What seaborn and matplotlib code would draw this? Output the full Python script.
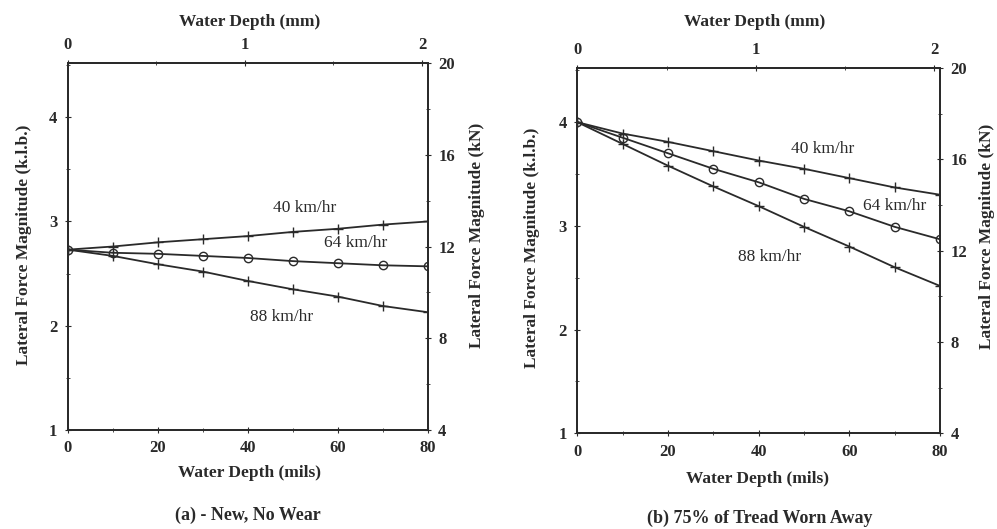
import pandas as pd
import matplotlib.pyplot as plt
import matplotlib.ticker as mticker
import seaborn as sns

# Water depth (mils) at each measured point
depth_mils = [0, 10, 20, 30, 40, 50, 60, 70, 80]
speeds = ['40 km/hr', '64 km/hr', '88 km/hr']

# (a) New tyre, no wear - lateral force (kip)
new_40 = [2.73, 2.76, 2.80, 2.83, 2.86, 2.90, 2.93, 2.97, 3.00]
new_64 = [2.73, 2.70, 2.69, 2.67, 2.65, 2.62, 2.60, 2.58, 2.57]
new_88 = [2.73, 2.67, 2.59, 2.52, 2.43, 2.35, 2.28, 2.19, 2.13]

# (b) 75% of tread worn away - lateral force (kip)
worn_40 = [4.00, 3.89, 3.81, 3.72, 3.63, 3.55, 3.46, 3.37, 3.30]
worn_64 = [4.00, 3.85, 3.70, 3.55, 3.42, 3.26, 3.14, 2.99, 2.87]
worn_88 = [4.00, 3.79, 3.58, 3.38, 3.19, 2.99, 2.80, 2.60, 2.42]

# tick values of the secondary scales
mm_ticks = [0, 1, 2]
mm_minor = [0.5, 1.5]
kn_ticks = [4, 8, 12, 16, 20]
kn_minor = [6, 10, 14, 18]

# where the speed labels sit (mils, kip)
new_label_pos = [(52.7, 3.13), (64.0, 2.79), (47.5, 2.08)]
worn_label_pos = [(54.0, 3.74), (70.0, 3.19), (42.5, 2.70)]


def long_form(v40, v64, v88):
    rows = []
    for spd, vals in zip(speeds, [v40, v64, v88]):
        for d, v in zip(depth_mils, vals):
            rows.append({'Depth': d, 'Force': v, 'Speed': spd})
    return pd.DataFrame(rows)


new_df = long_form(new_40, new_64, new_88)
worn_df = long_form(worn_40, worn_64, worn_88)

sns.set_style('ticks')
plt.rcParams['font.family'] = ['Liberation Serif', 'DejaVu Serif']

ink = '#2a2a2a'
markers = {'40 km/hr': '+', '64 km/hr': 'o', '88 km/hr': '+'}
lab_font = dict(fontsize=12.5, fontweight='bold', color=ink)

fig = plt.figure(figsize=(9.97, 5.29), dpi=100)
ax_a = fig.add_axes([0.068, 0.187, 0.361, 0.694])
ax_b = fig.add_axes([0.579, 0.181, 0.364, 0.690])


def style_ticks(axis_obj):
    axis_obj.tick_params(which='both', direction='inout', colors=ink, labelsize=12)
    axis_obj.tick_params(which='major', length=5, pad=5)
    axis_obj.tick_params(which='minor', length=3)


def draw_panel(ax, df, label_pos, caption, cap_xy, top_xy, lab_coords):
    for spd in speeds:
        sub = df[df['Speed'] == spd]
        sns.lineplot(data=sub, x='Depth', y='Force', ax=ax, color=ink,
                     marker=markers[spd], markersize=6 if spd == '64 km/hr' else 7,
                     markerfacecolor='none', markeredgecolor=ink,
                     markeredgewidth=1.0, linewidth=1.3)
    for spd, (lx, ly) in zip(speeds, label_pos):
        ax.text(lx, ly, spd, ha='center', va='center', fontsize=12.5, color=ink)

    ax.set_xlim(0, 80)
    ax.set_ylim(1, 4.52)
    ax.set_xticks([0, 20, 40, 60, 80])
    ax.set_xticks([10, 30, 50, 70], minor=True)
    ax.set_yticks([1, 2, 3, 4])
    ax.set_yticks([1.5, 2.5, 3.5, 4.5], minor=True)
    style_ticks(ax)
    for lbl in ax.get_xticklabels() + ax.get_yticklabels():
        lbl.set_fontweight('bold')
    for sp in ax.spines.values():
        sp.set_visible(True)
        sp.set_color(ink)
        sp.set_linewidth(1.3)

    ax.set_xlabel('Water Depth (mils)', **lab_font)
    ax.set_ylabel('Lateral Force Magnitude (k.l.b.)', **lab_font)
    ax.xaxis.set_label_coords(*lab_coords[0])
    ax.yaxis.set_label_coords(*lab_coords[1])

    # secondary scales: mm on top, kN on the right
    top = ax.secondary_xaxis('top', functions=(lambda m: m * 0.0254, lambda mm: mm / 0.0254))
    top.xaxis.set_major_locator(mticker.FixedLocator(mm_ticks))
    top.xaxis.set_minor_locator(mticker.FixedLocator(mm_minor))
    top.xaxis.set_major_formatter(mticker.FormatStrFormatter('%d'))
    style_ticks(top)
    top.spines['top'].set_color(ink)
    top.spines['top'].set_linewidth(1.3)
    for lbl in top.get_xticklabels():
        lbl.set_fontweight('bold')
    fig.text(top_xy[0], top_xy[1], 'Water Depth (mm)', ha='center', va='center', **lab_font)

    right = ax.twinx()
    right.set_ylim(4, 20)
    right.set_yticks(kn_ticks)
    right.set_yticks(kn_minor, minor=True)
    style_ticks(right)
    for lbl in right.get_yticklabels():
        lbl.set_fontweight('bold')
    for sp in right.spines.values():
        sp.set_color(ink)
        sp.set_linewidth(1.3)
    right.set_ylabel('Lateral Force Magnitude (kN)', **lab_font)
    right.yaxis.set_label_coords(*lab_coords[2])

    fig.text(cap_xy[0], cap_xy[1], caption, ha='center', va='center',
             fontsize=13, fontweight='bold', color=ink)


draw_panel(ax_a, new_df, new_label_pos, '(a) - New, No Wear',
           (248 / 997, 1 - 515 / 529), (250 / 997, 1 - 22 / 529),
           [(0.505, -0.095), (-0.10, 0.504), (1.116, 0.53)])
draw_panel(ax_b, worn_df, worn_label_pos, '(b) 75% of Tread Worn Away',
           (760 / 997, 1 - 518 / 529), (755 / 997, 1 - 22 / 529),
           [(0.496, -0.104), (-0.102, 0.507), (1.107, 0.54)])

fig.savefig('out.png', dpi=100)
